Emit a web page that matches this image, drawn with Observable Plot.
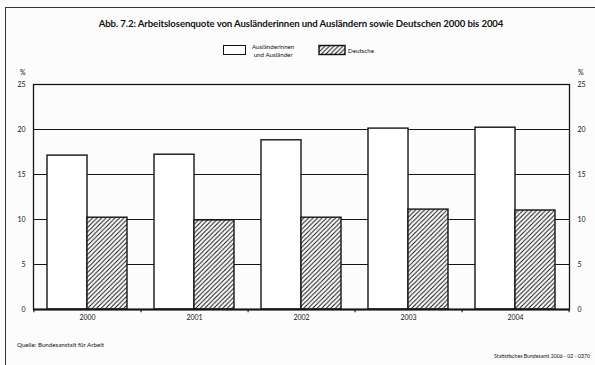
<!DOCTYPE html>
<html>
<head>
<meta charset="utf-8">
<script src="https://cdn.jsdelivr.net/npm/d3@7"></script>
<script src="https://cdn.jsdelivr.net/npm/@observablehq/plot@0.6"></script>
<style>
  html, body { margin: 0; padding: 0; background: #fff; }
  #wrap { position: relative; width: 595px; height: 365px; background: #fcfcfc; overflow: hidden;
          font-family: Lato, "Open Sans", sans-serif; color: #111; }
  #wrap svg { position: absolute; left: 0; top: 0; }
  .border { position: absolute; left: 5px; top: 7px; width: 600px; height: 400px;
            border-left: 1.6px solid #333; border-top: 1.6px solid #333; }
  .title { position: absolute; left: 0; width: 602px; top: 18px; text-align: center;
           font-weight: bold; font-size: 9.6px; letter-spacing: -0.1px; }
  .lgbox { position: absolute; height: 8px; border: 1.4px solid #111; background: #fff; }
  .lgtext { position: absolute; font-size: 6.2px; line-height: 7.5px; }
  .pct { position: absolute; top: 68px; font-size: 7px; }
  .src { position: absolute; left: 17px; top: 341px; font-size: 6.2px; }
  .stat { position: absolute; right: 5px; top: 353px; font-size: 5.2px; }
</style>
</head>
<body>
<div id="wrap">
  <div class="border"></div>
  <div class="title">Abb. 7.2: Arbeitslosenquote von Ausländerinnen und Ausländern sowie Deutschen 2000 bis 2004</div>
  <div class="lgbox" style="left:223px; top:45px; width:21px;"></div>
  <div class="lgtext" style="left:252px; top:43px; text-align:center;">Ausländerinnen<br>und Ausländer</div>
  <svg width="30" height="14" style="position:absolute; left:318px; top:44px;" id="lghatch"></svg>
  <div class="lgtext" style="left:348px; top:47px;">Deutsche</div>
  <div class="pct" style="left:20px;">%</div>
  <div class="pct" style="left:578px;">%</div>
  <div class="src">Quelle: Bundesanstalt für Arbeit</div>
  <div class="stat">Statistisches Bundesamt 2006 - 02 - 0370</div>
</div>
<script>
const years = ["2000", "2001", "2002", "2003", "2004"];
const auslaender = [17.1, 17.2, 18.8, 20.1, 20.2];
const deutsche = [10.2, 9.9, 10.2, 11.1, 11.0];
const yTicks = [0, 5, 10, 15, 20, 25];
const gridLevels = [5, 10, 15, 20];

const W = 595, H = 365;
const mL = 33, mR = 26, mT = 84, mB = 56;
const padInner = 0.254, padOuter = 0.127;

const xScale = Plot.scale({x: {type: "band", domain: years, range: [mL, W - mR], paddingInner: padInner, paddingOuter: padOuter}});
const bw = xScale.bandwidth;
const step = bw / (1 - padInner);

const ausData = years.map((y, i) => ({year: y, value: auslaender[i]}));
const deData = years.map((y, i) => ({year: y, value: deutsche[i]}));

const ink = "#151515";

const svg = Plot.plot({
  width: W,
  height: H,
  marginLeft: mL,
  marginRight: mR,
  marginTop: mT,
  marginBottom: mB,
  style: {background: "transparent", fontSize: "7px", fontFamily: "Lato, 'Open Sans', sans-serif", color: ink},
  x: {domain: years, paddingInner: padInner, paddingOuter: padOuter, tickSize: 0, tickPadding: 6, label: null},
  y: {domain: [0, 25], ticks: yTicks, axis: "both", tickSize: 0, tickPadding: 8, label: null},
  marks: [
    Plot.ruleY(gridLevels, {stroke: ink, strokeWidth: 1.2}),
    Plot.barY(ausData, {x: "year", y: "value", fill: "white", stroke: ink, strokeWidth: 1.4, insetRight: bw / 2}),
    Plot.barY(deData, {x: "year", y: "value", fill: "url(#hatch)", stroke: ink, strokeWidth: 1.4, insetLeft: bw / 2}),
    Plot.frame({stroke: ink, strokeWidth: 1.3}),
    Plot.ruleY([0], {stroke: ink, strokeWidth: 1.8}),
    Plot.ruleX(years, {x: d => d, dx: step / 2, y1: 0, y2: -0.35, stroke: ink, strokeWidth: 1.1}),
    Plot.ruleX(years.slice(0, 1), {x: d => d, dx: -step / 2, y1: 0, y2: -0.35, stroke: ink, strokeWidth: 1.1})
  ]
});

function addHatch(node, id) {
  const s = 4.5;
  const defs = d3.select(node).insert("defs", ":first-child");
  const pat = defs.append("pattern").attr("id", id).attr("patternUnits", "userSpaceOnUse")
    .attr("width", s).attr("height", s);
  pat.append("rect").attr("width", s).attr("height", s).attr("fill", "white");
  pat.append("path").attr("d", `M-1,1 l2,-2 M0,${s} l${s},${-s} M${s - 1},${s + 1} l2,-2`)
    .attr("stroke", "#111").attr("stroke-width", 1);
}
addHatch(svg, "hatch");
document.getElementById("wrap").insertBefore(svg, document.querySelector(".border"));

const lg = document.getElementById("lghatch");
addHatch(lg, "hatch2");
d3.select(lg).append("rect").attr("x", 1).attr("y", 1.5).attr("width", 26).attr("height", 9)
  .attr("fill", "url(#hatch2)").attr("stroke", "#111").attr("stroke-width", 1.4);
</script>
</body>
</html>
